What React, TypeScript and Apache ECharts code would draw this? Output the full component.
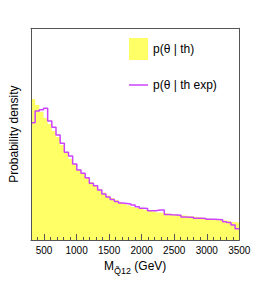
import React, { useEffect, useRef } from "react";
import * as echarts from "echarts";

// x range of the histograms (GeV)
const X_MIN = 300;
const X_MAX = 3500;

// p(θ | th): yellow filled histogram, 50 bins (arbitrary density units)
const thDensity = [
  141, 135, 128, 122, 116, 109, 103, 95, 88, 81,
  76, 71, 66, 62, 58, 54.5, 51, 47.5, 44.5, 42,
  40, 38, 36, 34.5, 33, 32, 31, 30, 29.5, 28.5,
  27.5, 27, 26.5, 26, 25.5, 25, 24.5, 24, 23.5, 23,
  22.5, 22, 21.5, 21, 20.5, 20, 19.5, 19, 18, 17.3,
];

// p(θ | th exp): magenta step line, 50 bins
const thExpDensity = [
  117.3, 129, 130.3, 131.7, 119, 112.7, 105, 96.7, 87.7, 84,
  76, 70, 66.7, 62.3, 56.7, 54.3, 50, 46, 43, 40.5,
  38.5, 37, 36.5, 36, 35, 33.3, 31.7, 31.5, 29.3, 29.3,
  30, 30, 25.5, 25.2, 25, 24.8, 23, 22.8, 22.7, 21.7,
  21.7, 21.5, 20.7, 20.7, 20.5, 20.2, 18.3, 17.5, 15, 11.3,
];

const majorTicks = [500, 1000, 1500, 2000, 2500, 3000, 3500];
const innerLabels = [500, 1000, 1500, 2000, 2500, 3000];
const lastLabel = [3500];

const FONT = "'Liberation Sans', Arial, Helvetica, sans-serif";

function toSteps(vals: number[]): number[][] {
  const w = (X_MAX - X_MIN) / vals.length;
  const pts = vals.map((v, i) => [X_MIN + i * w, v]);
  pts.push([X_MAX, vals[vals.length - 1]]);
  return pts;
}

export default function App() {
  const ref = useRef<HTMLDivElement>(null);

  useEffect(() => {
    document.body.style.margin = "0";
    if (!ref.current) return;
    const chart = echarts.init(ref.current, undefined, { renderer: "svg" });
    const frame = "#555";
    const labelStyle = {
      fontSize: 10,
      margin: 5,
      color: "#000",
      fontFamily: FONT,
      hideOverlap: false,
      formatter: (v: number) => String(Math.round(v)),
    };
    const option: any = {
      animation: false,
      backgroundColor: "#fff",
      grid: { left: 26.7, right: 26.7, top: 28.3, bottom: 43, show: false },
      legend: [
        {
          data: [{ name: "p(θ | th)", icon: "rect" }],
          left: 129,
          top: 38,
          padding: 0,
          itemWidth: 19,
          itemHeight: 22,
          selectedMode: false,
          textStyle: { fontSize: 12, color: "#000", fontFamily: FONT },
        },
        {
          data: [{ name: "p(θ | th exp)", icon: "rect" }],
          left: 129,
          top: 79,
          padding: 0,
          itemWidth: 19,
          itemHeight: 1.5,
          selectedMode: false,
          itemStyle: { color: "#cc44ff", borderWidth: 0 },
          lineStyle: { width: 0 },
          textStyle: { fontSize: 12, color: "#000", fontFamily: FONT },
        },
      ],
      xAxis: [
        {
          type: "value",
          position: "bottom",
          min: X_MIN,
          max: X_MAX,
          interval: 100,
          z: 10,
          axisLine: { show: true, lineStyle: { color: frame, width: 1 } },
          axisTick: { show: true, inside: true, length: 3, lineStyle: { color: frame } },
          axisLabel: { show: false },
          splitLine: { show: false },
        },
        {
          type: "value",
          position: "bottom",
          min: X_MIN,
          max: X_MAX,
          z: 10,
          axisLine: { show: false },
          axisTick: {
            show: true,
            inside: true,
            length: 6,
            customValues: majorTicks,
            lineStyle: { color: frame },
          },
          axisLabel: { show: true, customValues: innerLabels, ...labelStyle },
          splitLine: { show: false },
          name: "{m|M}{s|Q\u030312}{m| (GeV)}",
          nameLocation: "middle",
          nameGap: 19,
          nameTextStyle: {
            rich: {
              m: { fontSize: 12, color: "#000", fontFamily: FONT, lineHeight: 14, verticalAlign: "top" },
              s: {
                fontSize: 9,
                color: "#000",
                fontFamily: FONT,
                lineHeight: 14,
                verticalAlign: "top",
                padding: [7, 0, 0, 0],
              },
            },
          },
        },
        {
          type: "value",
          position: "top",
          min: X_MIN,
          max: X_MAX,
          z: 10,
          axisLine: { show: true, lineStyle: { color: frame, width: 1 } },
          axisTick: { show: false },
          axisLabel: { show: false },
          splitLine: { show: false },
        },
        {
          type: "value",
          position: "bottom",
          min: X_MIN,
          max: X_MAX,
          z: 10,
          axisLine: { show: false },
          axisTick: { show: false },
          axisLabel: {
            show: true,
            customValues: lastLabel,
            showMaxLabel: true,
            alignMaxLabel: "right",
            ...labelStyle,
          },
          splitLine: { show: false },
        },
      ],
      yAxis: [
        {
          type: "value",
          position: "left",
          min: 0,
          max: 211.7,
          z: 10,
          axisLine: { show: true, lineStyle: { color: frame, width: 1 } },
          axisTick: { show: false },
          axisLabel: { show: false },
          splitLine: { show: false },
          name: "Probability density",
          nameLocation: "middle",
          nameRotate: 90,
          nameGap: 11,
          nameTextStyle: { fontSize: 12, color: "#000", fontFamily: FONT },
        },
        {
          type: "value",
          position: "right",
          min: 0,
          max: 211.7,
          z: 10,
          axisLine: { show: true, lineStyle: { color: frame, width: 1 } },
          axisTick: { show: false },
          axisLabel: { show: false },
          splitLine: { show: false },
        },
      ],
      series: [
        {
          name: "p(θ | th)",
          type: "line",
          step: "end",
          xAxisIndex: 0,
          yAxisIndex: 0,
          symbol: "none",
          data: toSteps(thDensity),
          itemStyle: { color: "#ffff66" },
          lineStyle: { width: 0, color: "#ffff66" },
          areaStyle: { color: "#ffff66", opacity: 1 },
          z: 2,
        },
        {
          name: "p(θ | th exp)",
          type: "line",
          step: "end",
          xAxisIndex: 0,
          yAxisIndex: 0,
          symbol: "none",
          data: toSteps(thExpDensity),
          itemStyle: { color: "#cc44ff" },
          lineStyle: { width: 1.5, color: "#cc44ff" },
          z: 3,
        },
      ],
    };
    chart.setOption(option);
    return () => chart.dispose();
  }, []);

  return (
    <div
      ref={ref}
      style={{ position: "absolute", left: 0, top: 0, width: 266, height: 283 }}
    />
  );
}
